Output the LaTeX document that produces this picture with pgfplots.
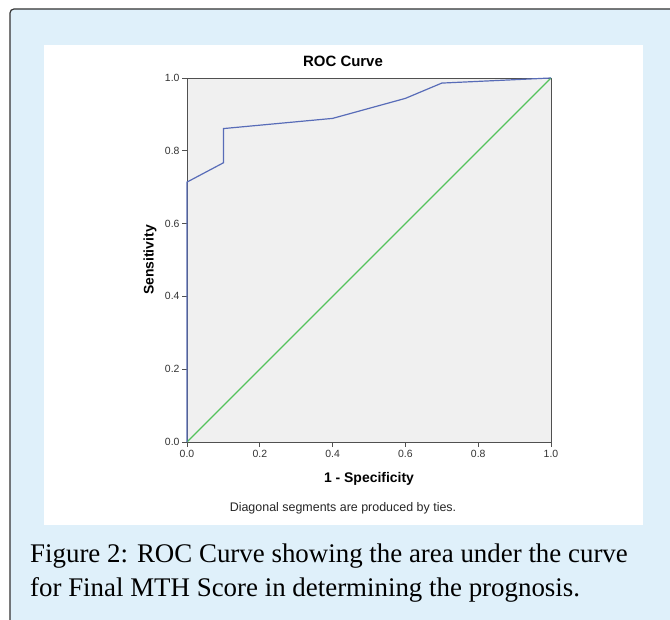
\documentclass[border=0pt]{standalone}
\usepackage{pgfplots}
\pgfplotsset{compat=1.18}
\usepackage{fontspec}
\setsansfont{Liberation Sans}
\newfontfamily\capfont{Liberation Serif}
\definecolor{bgblue}{RGB}{223,240,250}
\definecolor{plotgray}{RGB}{240,240,240}
\definecolor{rocblue}{RGB}{88,108,184}
\definecolor{refgreen}{RGB}{84,194,92}
\definecolor{framegray}{RGB}{80,80,80}

\begin{document}
\begin{tikzpicture}[x=1bp,y=1bp]
\useasboundingbox (0,0) rectangle (670,620);
\fill[white] (0,0) rectangle (670,620);
% outer box
\fill[bgblue,rounded corners=4bp] (10,-5) rectangle (680,611);
\draw[black!80,line width=1.2bp,rounded corners=4bp] (10,-5) -- (10,611) -- (680,611);
% inner white panel
\fill[white] (44,95) rectangle (643,575);

\begin{axis}[
    at={(187bp,178bp)}, anchor=south west,
    width=364bp, height=364bp, scale only axis,
    xmin=0, xmax=1, ymin=0, ymax=1,
    clip=false,
    xtick={0,0.2,0.4,0.6,0.8,1},
    ytick={0,0.2,0.4,0.6,0.8,1},
    xtick pos=bottom, ytick pos=left,
    tick align=outside,
    major tick length=5bp,
    tick style={framegray, line width=0.8bp},
    axis line style={framegray, line width=0.9bp},
    axis background/.style={fill=plotgray},
    /pgf/number format/assume math mode=true,
    /pgf/number format/fixed,
    /pgf/number format/fixed zerofill,
    /pgf/number format/precision=1,
    ticklabel style={font=\sffamily\fontsize{10.5}{12}\selectfont, text=black!80},
    xticklabel style={yshift=0bp},
    yticklabel style={xshift=1bp},
    title={ROC Curve},
    title style={at={(axis description cs:0.4286,1.030)}, anchor=center,
        font=\sffamily\bfseries\fontsize{15}{17}\selectfont},
    xlabel={1 - Specificity},
    xlabel style={at={(axis description cs:0.5,-0.1016)}, anchor=center,
        font=\sffamily\bfseries\fontsize{14}{16}\selectfont},
    ylabel={Sensitivity},
    ylabel style={at={(axis description cs:-0.1016,0.5)}, anchor=center, rotate=0,
        font=\sffamily\bfseries\fontsize{14}{16}\selectfont},
]
\addplot[refgreen, line width=1.1bp, sharp plot] coordinates {(0,0) (1,1)};
\addplot[rocblue, line width=1.2bp, sharp plot] coordinates {
    (0,0) (0,0.714) (0.1,0.767) (0.1,0.861) (0.4,0.889)
    (0.6,0.944) (0.7,0.986) (1,1)
};
\end{axis}

\node[font=\sffamily\fontsize{12.5}{14}\selectfont, text=black!85] at (343,112)
    {Diagonal segments are produced by ties.};

\node[anchor=base west, font=\capfont\fontsize{27}{32}\selectfont, inner sep=0pt, text=black]
    at (30,57) {Figure 2: ROC Curve showing the area under the curve};
\node[anchor=base west, font=\capfont\fontsize{27}{32}\selectfont, inner sep=0pt, text=black]
    at (30,23) {for Final MTH Score in determining the prognosis.};
\end{tikzpicture}
\end{document}
